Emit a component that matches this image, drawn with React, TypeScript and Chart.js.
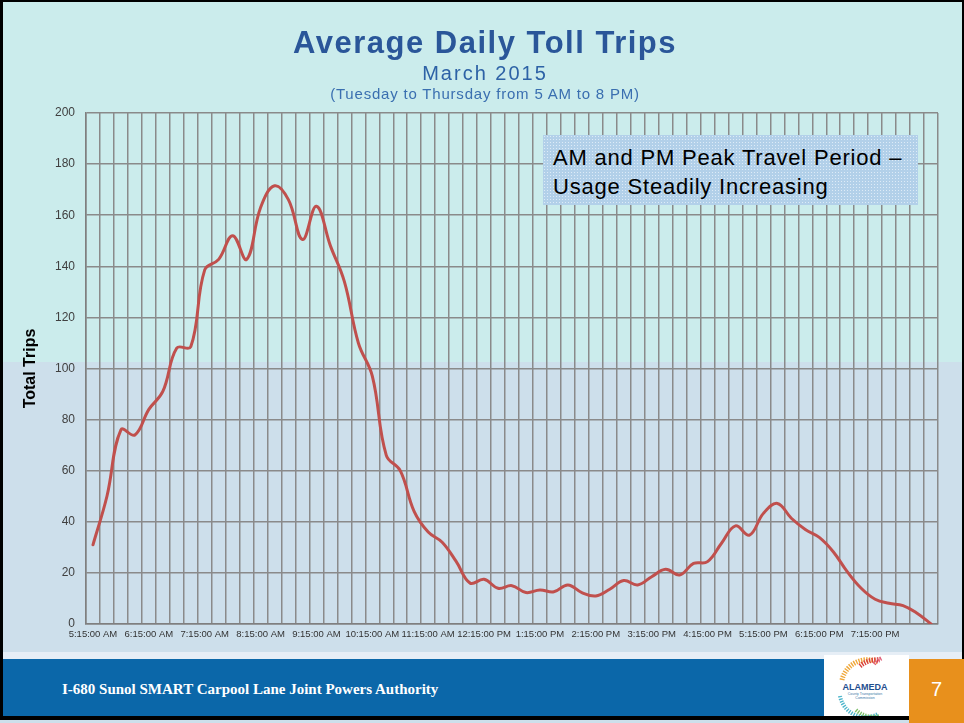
import React, { useEffect, useRef } from 'react';
import { Chart, registerables } from 'chart.js';

Chart.register(...registerables);

// 15-minute time slots, Tuesday to Thursday, March 2015
const timeSlots: string[] = [
  '5:15:00 AM', '5:30:00 AM', '5:45:00 AM', '6:00:00 AM',
  '6:15:00 AM', '6:30:00 AM', '6:45:00 AM', '7:00:00 AM',
  '7:15:00 AM', '7:30:00 AM', '7:45:00 AM', '8:00:00 AM',
  '8:15:00 AM', '8:30:00 AM', '8:45:00 AM', '9:00:00 AM',
  '9:15:00 AM', '9:30:00 AM', '9:45:00 AM', '10:00:00 AM',
  '10:15:00 AM', '10:30:00 AM', '10:45:00 AM', '11:00:00 AM',
  '11:15:00 AM', '11:30:00 AM', '11:45:00 AM', '12:00:00 PM',
  '12:15:00 PM', '12:30:00 PM', '12:45:00 PM', '1:00:00 PM',
  '1:15:00 PM', '1:30:00 PM', '1:45:00 PM', '2:00:00 PM',
  '2:15:00 PM', '2:30:00 PM', '2:45:00 PM', '3:00:00 PM',
  '3:15:00 PM', '3:30:00 PM', '3:45:00 PM', '4:00:00 PM',
  '4:15:00 PM', '4:30:00 PM', '4:45:00 PM', '5:00:00 PM',
  '5:15:00 PM', '5:30:00 PM', '5:45:00 PM', '6:00:00 PM',
  '6:15:00 PM', '6:30:00 PM', '6:45:00 PM', '7:00:00 PM',
  '7:15:00 PM', '7:30:00 PM', '7:45:00 PM', '8:00:00 PM',
  '8:15:00 PM',
];

// Labels shown on the x axis (every hour, up to 7:15 PM)
const shownTimeLabels: string[] = [
  '5:15:00 AM', '6:15:00 AM', '7:15:00 AM', '8:15:00 AM', '9:15:00 AM',
  '10:15:00 AM', '11:15:00 AM', '12:15:00 PM', '1:15:00 PM', '2:15:00 PM',
  '3:15:00 PM', '4:15:00 PM', '5:15:00 PM', '6:15:00 PM', '7:15:00 PM',
];

const avgTrips: number[] = [
  31, 50, 76, 74, 84, 91, 108, 108.5,
  138.6, 142.7, 152, 142.7, 163, 171.5, 166, 150.5,
  163.5, 148, 134, 110, 97, 66, 60, 44,
  36, 32, 24.5, 16, 17.5, 14, 15, 12.3,
  13.3, 12.6, 15.3, 12.3, 11, 13.6, 17, 15.3,
  18.5, 21.4, 19.2, 23.7, 24.4, 31.6, 38.4, 34.8,
  43.3, 47.2, 41.4, 37, 33.9, 28.3, 20.5, 14,
  9.7, 8.1, 7.2, 4.2, 0,
];

const yMin = 0;
const yMax = 200;
const yStep = 20;

export default function App() {
  const canvasRef = useRef<HTMLCanvasElement>(null);

  useEffect(() => {
    const canvas = canvasRef.current;
    if (!canvas) return;
    const chart = new Chart(canvas, {
      type: 'line',
      data: {
        labels: timeSlots,
        datasets: [
          {
            label: 'Average Daily Toll Trips',
            data: avgTrips,
            borderColor: '#c0504d',
            backgroundColor: '#c0504d',
            borderWidth: 3,
            pointRadius: 0,
            pointHoverRadius: 0,
            tension: 0.4,
            fill: false,
            borderCapStyle: 'round',
            borderJoinStyle: 'round',
          },
        ],
      },
      options: {
        animation: false,
        responsive: false,
        devicePixelRatio: 1,
        layout: { padding: { top: 113, right: 26, bottom: 8, left: 0 } },
        plugins: {
          legend: { display: false },
          tooltip: { enabled: false },
          title: { display: false },
        },
        scales: {
          x: {
            type: 'category',
            offset: true,
            grid: { offset: true, color: '#8a8a8a', lineWidth: 1.5, drawTicks: false },
            border: { color: '#7f7f7f', width: 1.5 },
            ticks: {
              autoSkip: false,
              maxRotation: 0,
              minRotation: 0,
              padding: 5,
              color: '#333333',
              font: { family: 'Arial, sans-serif', size: 9.5 },
              callback: (_v: any, i: number) => {
                const lbl = timeSlots[i];
                return shownTimeLabels.includes(lbl) ? lbl : '';
              },
            },
            afterFit: (s: any) => {
              s.height = 20;
            },
          },
          y: {
            min: yMin,
            max: yMax,
            ticks: {
              stepSize: yStep,
              padding: 11,
              color: '#404040',
              font: { family: 'Arial, sans-serif', size: 12 },
            },
            grid: { color: '#8a8a8a', lineWidth: 1.5, drawTicks: false },
            border: { color: '#7f7f7f', width: 1.5 },
            title: {
              display: true,
              text: 'Total Trips',
              color: '#000000',
              font: { family: 'Arial, sans-serif', size: 16, weight: 'bold' },
              padding: { top: 21, bottom: 0 },
            },
            afterFit: (s: any) => {
              s.width = 86;
            },
          },
        },
      },
    } as any);
    return () => chart.destroy();
  }, []);

  const abs = (o: React.CSSProperties): React.CSSProperties => ({ position: 'absolute', ...o });

  return (
    <div
      style={{
        position: 'absolute',
        left: 0,
        top: 0,
        width: 964,
        height: 723,
        overflow: 'hidden',
        fontFamily: 'Arial, Helvetica, sans-serif',
        background: '#cddfeb',
      }}
    >
      {/* background bands */}
      <div style={abs({ left: 0, top: 0, width: 964, height: 362, background: '#cbecec' })} />
      <div style={abs({ left: 0, top: 362, width: 964, height: 292, background: '#cddfeb' })} />

      {/* chart */}
      <canvas
        ref={canvasRef}
        width={964}
        height={652}
        style={abs({ left: 0, top: 0, width: 964, height: 652, zIndex: 1 })}
      />

      {/* titles */}
      <div
        style={abs({
          left: 0,
          width: 970,
          top: 27,
          textAlign: 'center',
          fontSize: 31,
          lineHeight: '31px',
          fontWeight: 'bold',
          letterSpacing: 1.5,
          color: '#2a5699',
          zIndex: 2,
          whiteSpace: 'nowrap',
        })}
      >
        Average Daily Toll Trips
      </div>
      <div
        style={abs({
          left: 0,
          width: 970,
          top: 63,
          textAlign: 'center',
          fontSize: 20,
          lineHeight: '20px',
          letterSpacing: 2,
          color: '#2d62a6',
          zIndex: 2,
          whiteSpace: 'nowrap',
        })}
      >
        March 2015
      </div>
      <div
        style={abs({
          left: 0,
          width: 970,
          top: 86,
          textAlign: 'center',
          fontSize: 15,
          lineHeight: '15px',
          letterSpacing: 0.8,
          color: '#3a6fb0',
          zIndex: 2,
          whiteSpace: 'nowrap',
        })}
      >
        (Tuesday to Thursday from 5 AM to 8 PM)
      </div>

      {/* annotation box */}
      <div
        style={abs({
          left: 543,
          top: 135,
          width: 375,
          height: 70,
          backgroundColor: '#b2d0e9',
          backgroundImage: 'radial-gradient(rgba(235,245,252,0.75) 0.7px, transparent 0.9px)',
          backgroundSize: '3px 3px',
          zIndex: 2,
        })}
      >
        <div
          style={{
            paddingLeft: 10,
            paddingTop: 8,
            fontSize: 22,
            lineHeight: '29px',
            letterSpacing: 0.8,
            color: '#000000',
            whiteSpace: 'nowrap',
          }}
        >
          AM and PM Peak Travel Period –<br />
          Usage Steadily Increasing
        </div>
      </div>

      {/* footer */}
      <div style={abs({ left: 0, top: 652, width: 964, height: 8, background: '#e6eef6', zIndex: 2 })} />
      <div style={abs({ left: 0, top: 659, width: 824, height: 58, background: '#0b67a9', zIndex: 2 })} />
      <div
        style={abs({
          left: 62,
          top: 681,
          fontFamily: "'Liberation Serif', 'Times New Roman', serif",
          fontWeight: 'bold',
          fontSize: 15,
          lineHeight: '17px',
          color: '#ffffff',
          whiteSpace: 'nowrap',
          zIndex: 3,
        })}
      >
        I-680 Sunol SMART Carpool Lane Joint Powers Authority
      </div>
      <div style={abs({ left: 824, top: 655, width: 85, height: 63, background: '#ffffff', zIndex: 2 })} />
      <svg
        width={70}
        height={62}
        viewBox="0 0 70 62"
        style={abs({ left: 830, top: 656, zIndex: 3 })}
      >
        <path d="M12 24 A 26 26 0 0 1 48 6" fill="none" stroke="#f0a83a" strokeWidth={5} strokeDasharray="1.4 1.2" />
        <path d="M30 10 A 26 26 0 0 1 50 4" fill="none" stroke="#d9413a" strokeWidth={5} strokeDasharray="1.4 1.2" />
        <path d="M44 8 A 26 26 0 0 1 52 2" fill="none" stroke="#e0607a" strokeWidth={4} strokeDasharray="1.4 1.2" />
        <path d="M10 40 A 26 26 0 0 0 48 58" fill="none" stroke="#4fb6cc" strokeWidth={4} strokeDasharray="1.4 1.2" />
        <path d="M26 54 A 26 26 0 0 0 50 60" fill="none" stroke="#7cbf6a" strokeWidth={4} strokeDasharray="1.4 1.2" />
        <text x={35} y={34} textAnchor="middle" fontFamily="Arial, sans-serif" fontWeight="bold" fontSize={9} fill="#1f4e8f">
          ALAMEDA
        </text>
        <text x={35} y={39} textAnchor="middle" fontFamily="Arial, sans-serif" fontSize={3.5} fill="#3a78a8">
          County Transportation
        </text>
        <text x={35} y={43} textAnchor="middle" fontFamily="Arial, sans-serif" fontSize={3.5} fill="#3a78a8">
          Commission
        </text>
      </svg>
      <div
        style={abs({
          left: 909,
          top: 659,
          width: 55,
          height: 64,
          background: '#e8901c',
          color: '#ffffff',
          fontSize: 20,
          lineHeight: '60px',
          textAlign: 'center',
          zIndex: 3,
        })}
      >
        7
      </div>

      {/* frame */}
      <div style={abs({ left: 0, top: 716, width: 909, height: 4, background: '#000000', zIndex: 4 })} />
      <div style={abs({ left: 0, top: 0, width: 964, height: 2, background: '#000000', zIndex: 4 })} />
      <div style={abs({ left: 0, top: 0, width: 3, height: 720, background: '#000000', zIndex: 4 })} />
      <div style={abs({ left: 962, top: 0, width: 2, height: 659, background: '#000000', zIndex: 4 })} />
    </div>
  );
}
